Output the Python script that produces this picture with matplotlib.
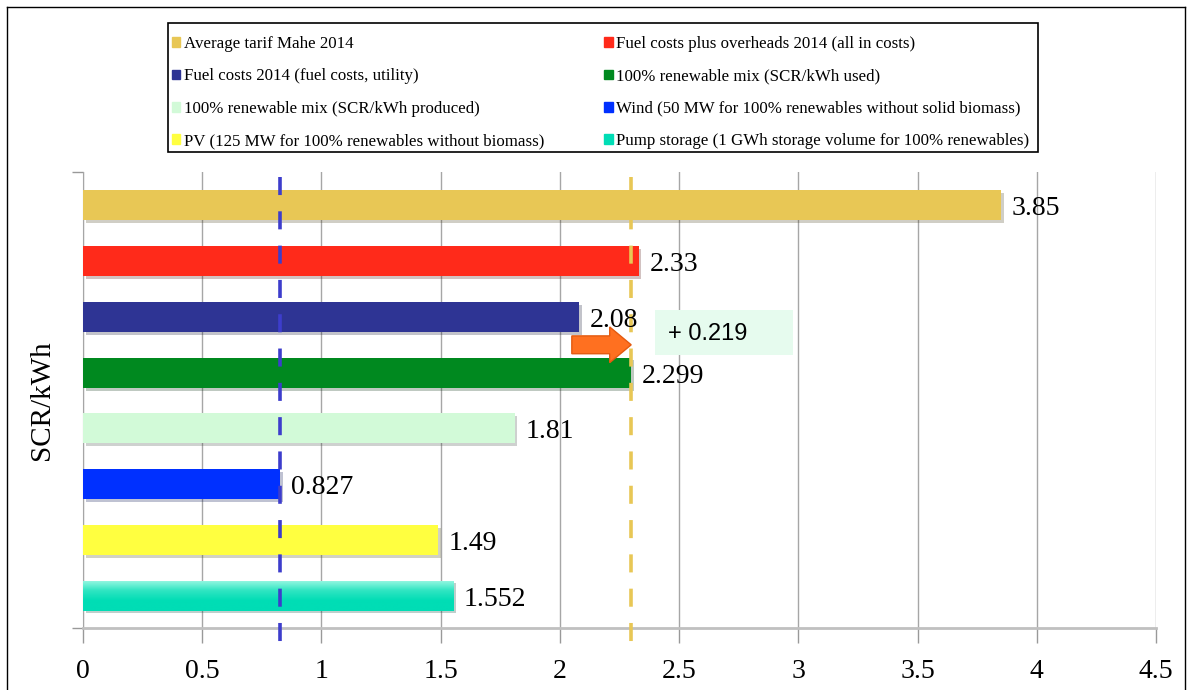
import matplotlib
matplotlib.use("Agg")
import matplotlib.pyplot as plt
import matplotlib.patches as mpatches
import matplotlib.patheffects as pe
from matplotlib.lines import Line2D
import numpy as np

# ---- data -------------------------------------------------------------
labels = [
    "Average tarif Mahe 2014",
    "Fuel costs plus overheads 2014 (all in costs)",
    "Fuel costs 2014 (fuel costs, utility)",
    "100% renewable mix (SCR/kWh used)",
    "100% renewable mix (SCR/kWh produced)",
    "Wind (50 MW for 100% renewables without solid biomass)",
    "PV (125 MW for 100% renewables without biomass)",
    "Pump storage (1 GWh storage volume for 100% renewables)",
]
values = [3.85, 2.33, 2.08, 2.299, 1.81, 0.827, 1.49, 1.552]
colors = ["#e8c755", "#ff2a1a", "#2e3494", "#00891f",
          "#d2fad8", "#0030ff", "#ffff40", "#00ddb5"]
xticks = [0, 0.5, 1, 1.5, 2, 2.5, 3, 3.5, 4, 4.5]
wind_ref = 0.827       # blue reference line
mix_ref = 2.299        # yellow reference line
fuel_cost = 2.08
delta_text = "+ 0.219"
ylabel = "SCR/kWh"

serif = "Liberation Serif"
sans = "Liberation Sans"

fig = plt.figure(figsize=(11.91, 6.90), dpi=100)
W, H = 1191, 690
ax = fig.add_axes([83 / W, 1 - 628 / H, (1156 - 83) / W, (628 - 172) / H])

ypos = np.arange(len(values))
bar_h = 0.54
shadow = [pe.SimplePatchShadow(offset=(2, -2), alpha=0.25), pe.Normal()]
bars = ax.barh(ypos, values, height=bar_h, color=colors, zorder=3)
for b in bars:
    b.set_path_effects(shadow)

ax.set_xlim(0, 4.5)
ax.set_ylim(7.58, -0.6)

# soft vertical gradient on the pump-storage bar
pump = bars[-1]
grad = np.linspace(0, 1, 64)[:, None]
cmap = matplotlib.colors.LinearSegmentedColormap.from_list(
    "pump", ["#9af8e3", "#30e5c2", "#00ddb5", "#00ddb5"])
im = ax.imshow(grad, cmap=cmap, aspect="auto", origin="upper",
               extent=(0, values[-1], ypos[-1] + bar_h / 2, ypos[-1] - bar_h / 2),
               zorder=3.5)
im.set_clip_path(pump)
ax.set_xlim(0, 4.5)
ax.set_ylim(7.58, -0.6)

# value labels
for y, v in zip(ypos, values):
    ax.text(v + 0.045, y + 0.06, f"{v:g}", va="center", ha="left",
            fontsize=20, family=serif, zorder=5)

# reference lines (dash pattern starts at the top of the plot)
for xv, c in [(wind_ref, "#3d3dcc"), (mix_ref, "#e8c755")]:
    ax.add_line(Line2D([xv, xv], [0.99, -0.058], transform=ax.get_xaxis_transform(),
                       color=c, lw=2.6, dashes=(5, 4.5), zorder=4, clip_on=False))

# arrow and difference box
arrow = mpatches.FancyArrow(fuel_cost - 0.03, 2.5, mix_ref - fuel_cost + 0.03, 0,
                            width=0.32, head_width=0.64, head_length=0.09,
                            length_includes_head=True, fc="#ff7020", ec="#e35a10",
                            lw=1, zorder=6)
ax.add_patch(arrow)
ax.add_patch(mpatches.Rectangle((2.40, 1.88), 0.578, 0.81, fc="#e6fbee", ec="none",
                                zorder=4))
ax.text(2.455, 2.30, delta_text, fontsize=17, family=sans, va="center", ha="left",
        zorder=6)

# axes styling
ax.set_xticks(xticks)
ax.set_xticklabels([f"{t:g}" for t in xticks], family=serif, fontsize=20)
ax.tick_params(axis="x", length=11, width=1, color="#999999", pad=11)
ax.set_yticks([-0.6, 7.58])
ax.set_yticklabels([])
ax.tick_params(axis="y", length=8, width=1, color="#999999")
ax.grid(axis="x", color="#a6a6a6", lw=1, zorder=0)
ax.set_axisbelow(True)
for s in ["top", "right"]:
    ax.spines[s].set_visible(False)
ax.spines["left"].set_color("#a6a6a6")
ax.spines["bottom"].set_color("#c0c0c0")
ax.spines["bottom"].set_linewidth(2)
ax.set_ylabel(ylabel, family=serif, fontsize=21, labelpad=9)

# legend: column-first fill, so order handles left column then right column
order = [0, 2, 4, 6, 1, 3, 5, 7]
handles = [mpatches.Patch(color=colors[i]) for i in order]
leg = fig.legend(handles, [labels[i] for i in order], ncol=2,
                 loc="upper left", bbox_to_anchor=(172 / W, 1 - 36 / H),
                 prop={"family": serif, "size": 12.2},
                 frameon=False,
                 handlelength=0.5, handleheight=0.5, handletextpad=0.2,
                 labelspacing=0.97, columnspacing=3.55, borderpad=0,
                 borderaxespad=0)
# legend box
fig.add_artist(mpatches.Rectangle((168 / W, 1 - 152 / H), (1038 - 168) / W,
                                  (152 - 23) / H, transform=fig.transFigure,
                                  fill=False, ec="black", lw=1.2))

# outer frame
for xs, ys in [([7, 7], [0, 683]), ([7, 1185], [683, 683]), ([1185, 1185], [683, 0])]:
    fig.add_artist(Line2D([x / W for x in xs], [y / H for y in ys],
                          color="black", lw=1, transform=fig.transFigure))

fig.savefig("out.png", dpi=100)
